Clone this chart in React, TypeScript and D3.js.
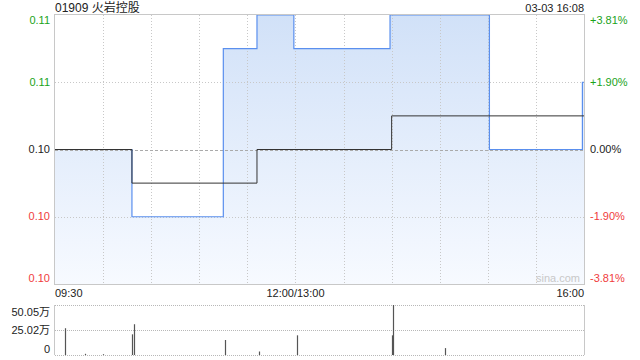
import React from "react";
import * as d3 from "d3";

const title = "01909 火岩控股";
const stamp = "03-03 16:08";
const basePrice = 0.105;
const rangePct = 3.81;
const leftTicks = ["0.11", "0.11", "0.10", "0.10", "0.10"];
const rightTicks = ["+3.81%", "+1.90%", "0.00%", "-1.90%", "-3.81%"];
const tickPct = [3.81, 1.9, 0, -1.9, -3.81];
const timeLabels = ["09:30", "12:00/13:00", "16:00"];
const timeLabelMin = [0, 150, 330];
const totalMin = 330;

// price change points: minute index, price
const priceMin = [0, 48, 105, 126, 149, 209, 271, 329, 330];
const priceVal = [0.105, 0.103, 0.108, 0.109, 0.108, 0.109, 0.105, 0.107, 0.107];
// average price change points
const avgMin = [0, 48, 126, 210, 330];
const avgVal = [0.105, 0.104, 0.105, 0.106, 0.106];
// volume (万)
const volMin = [6, 19, 30, 48, 49, 106, 127, 151, 210, 211, 243];
const volVal = [26.8, 1.2, 0.8, 20.7, 30.8, 15.0, 3.5, 19.7, 19.7, 50.05, 6.9];
const volTicks = ["50.05万", "25.02万", "0"];
const volTickVal = [50.05, 25.02, 0];

const L = 55, R = 584, T = 15, B = 284;
const VT = 305, VB = 355;
const font = "'Liberation Sans', Arial, 'Noto Sans CJK SC', sans-serif";

export default function App() {
  const x = d3.scaleLinear().domain([0, totalMin]).range([L, R]);
  const yPct = d3.scaleLinear().domain([-rangePct, rangePct]).range([B, T]);
  const y = (p: number) => yPct(((p - basePrice) / basePrice) * 100);
  const yv = d3.scaleLinear().domain([0, 50.05]).range([VB, VT]);

  const pts: [number, number][] = priceMin.map((m, i) => [m, priceVal[i]]);
  const apts: [number, number][] = avgMin.map((m, i) => [m, avgVal[i]]);
  const line = d3.line<[number, number]>().x(d => x(d[0])).y(d => y(d[1])).curve(d3.curveStepAfter);
  const area = d3.area<[number, number]>().x(d => x(d[0])).y0(B).y1(d => y(d[1])).curve(d3.curveStepAfter);

  const vGrid = d3.range(1, 11).map(i => i * 30);
  const green = "#1aa31a", red = "#f03c3c", dark = "#222";
  const colorFor = (v: number) => (v > 0 ? green : v < 0 ? red : dark);
  const labelY = (i: number, n: number, yy: number) => (i === 0 ? yy + 5 : i === n - 1 ? yy - 6 : yy);

  return (
    <svg width={640} height={360} style={{ position: "absolute", left: 0, top: 0, background: "#fff" }} fontFamily={font}>
      <defs>
        <linearGradient id="g" gradientUnits="userSpaceOnUse" x1={0} y1={T} x2={0} y2={B}>
          <stop offset="0" stopColor="#d1e1f8" />
          <stop offset="1" stopColor="#f7faff" />
        </linearGradient>
      </defs>
      <text x={L} y={12} fontSize={12} fill="#222">{title}</text>
      <text x={R} y={12} fontSize={11} fill="#222" textAnchor="end">{stamp}</text>

      <path d={area(pts) || ""} fill="url(#g)" />
      {vGrid.map(m => (
        <line key={m} x1={Math.round(x(m)) + 0.5} x2={Math.round(x(m)) + 0.5} y1={T} y2={B} stroke="#c8c8c8" strokeDasharray="1,2" />
      ))}
      {tickPct.slice(1, 4).map((p, i) => (
        <line key={i} x1={L} x2={R} y1={Math.round(yPct(p)) + 0.5} y2={Math.round(yPct(p)) + 0.5}
          stroke={p === 0 ? "#aaa" : "#c8c8c8"} strokeDasharray={p === 0 ? "3,2" : "1,2"} />
      ))}
      <path d={line(pts) || ""} fill="none" stroke="#5a8fee" strokeWidth={1.2} />
      <path d={line(apts) || ""} fill="none" stroke="#333" strokeWidth={1} />
      <rect x={L - 0.5} y={T - 0.5} width={R - L + 1} height={B - T + 1} fill="none" stroke="#c8c8c8" />
      <text x={558} y={282} fontSize={11} fill="#c8c8c8" textAnchor="middle">sina.com</text>

      {leftTicks.map((t, i) => (
        <text key={i} x={50} y={labelY(i, 5, yPct(tickPct[i]))} dy="0.35em" fontSize={11} textAnchor="end" fill={colorFor(tickPct[i])}>{t}</text>
      ))}
      {rightTicks.map((t, i) => (
        <text key={i} x={590} y={labelY(i, 5, yPct(tickPct[i]))} dy="0.35em" fontSize={11} fill={colorFor(tickPct[i])}>{t}</text>
      ))}
      {timeLabels.map((t, i) => (
        <text key={i} x={x(timeLabelMin[i])} y={297} fontSize={11} fill="#222"
          textAnchor={i === 0 ? "start" : i === timeLabels.length - 1 ? "end" : "middle"}>{t}</text>
      ))}

      {volTickVal.map((v, i) => (
        <line key={i} x1={L} x2={R} y1={Math.round(yv(v)) + 0.5} y2={Math.round(yv(v)) + 0.5} stroke="#b8b8b8" strokeDasharray="1,1" />
      ))}
      <line x1={L - 0.5} x2={L - 0.5} y1={VT} y2={VB} stroke="#c8c8c8" />
      <line x1={R + 0.5} x2={R + 0.5} y1={VT} y2={VB} stroke="#c8c8c8" />
      {volMin.map((m, i) => (
        <line key={i} x1={Math.round(x(m)) + 0.5} x2={Math.round(x(m)) + 0.5} y1={VB} y2={yv(volVal[i])} stroke="#555" strokeWidth={1.2} />
      ))}
      {volTicks.map((t, i) => (
        <text key={i} x={50} y={labelY(i, 3, yv(volTickVal[i])) + (i === 0 ? 2 : 0)} dy="0.35em" fontSize={11} textAnchor="end" fill="#222">{t}</text>
      ))}
    </svg>
  );
}
